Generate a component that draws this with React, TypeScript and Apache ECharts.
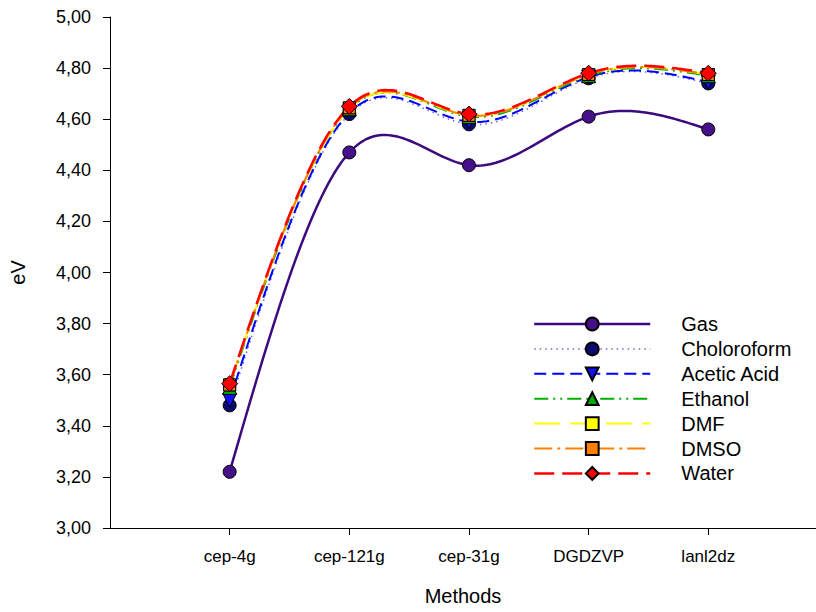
import React, { useEffect, useRef } from "react";
import * as echarts from "echarts";

const CATEGORIES = ["cep-4g", "cep-121g", "cep-31g", "DGDZVP", "lanl2dz"];
const Y_TICKS = [3.0, 3.2, 3.4, 3.6, 3.8, 4.0, 4.2, 4.4, 4.6, 4.8, 5.0];

const GAS = [3.22, 4.47, 4.42, 4.61, 4.56];
const CHLOROFORM = [3.48, 4.62, 4.58, 4.76, 4.74];
const ACETIC = [3.5, 4.625, 4.59, 4.765, 4.745];
const ETHANOL = [3.55, 4.64, 4.61, 4.77, 4.77];
const DMF = [3.56, 4.64, 4.615, 4.775, 4.775];
const DMSO = [3.56, 4.645, 4.615, 4.775, 4.775];
const WATER = [3.565, 4.65, 4.62, 4.78, 4.78];

const SERIES = [
  { name: "Gas", values: GAS, line: "#3c0a7e", fill: "#45108a", dash: "solid" as any, width: 2.5, symbol: "circle", size: 13, rotate: 0 },
  { name: "Choloroform", values: CHLOROFORM, line: "#6a6ad8", fill: "#0a0a70", dash: [1.5, 4], width: 1.5, symbol: "circle", size: 13, rotate: 0 },
  { name: "Acetic Acid", values: ACETIC, line: "#0000ff", fill: "#1010ff", dash: [12, 6], width: 2, symbol: "triangle", size: 14, rotate: 180 },
  { name: "Ethanol", values: ETHANOL, line: "#00b000", fill: "#00a800", dash: [14, 5, 2, 5, 2, 5], width: 2, symbol: "triangle", size: 14, rotate: 0 },
  { name: "DMF", values: DMF, line: "#ffff00", fill: "#ffff00", dash: [26, 10], width: 2, symbol: "rect", size: 12, rotate: 0 },
  { name: "DMSO", values: DMSO, line: "#ff8000", fill: "#ff8000", dash: [18, 5, 3, 5], width: 2, symbol: "rect", size: 12, rotate: 0 },
  { name: "Water", values: WATER, line: "#ff0000", fill: "#ff0000", dash: [20, 8], width: 2.5, symbol: "diamond", size: 16, rotate: 0 },
];

// natural cubic spline second derivatives (unit spacing)
function splineM(y: number[]): number[] {
  const n = y.length;
  const M = new Array(n).fill(0);
  const a: number[] = [], b: number[] = [], c: number[] = [], d: number[] = [];
  for (let i = 1; i < n - 1; i++) {
    a.push(1); b.push(4); c.push(1);
    d.push(6 * (y[i + 1] - 2 * y[i] + y[i - 1]));
  }
  const m = d.length;
  for (let i = 1; i < m; i++) {
    const w = a[i] / b[i - 1];
    b[i] -= w * c[i - 1];
    d[i] -= w * d[i - 1];
  }
  const x = new Array(m).fill(0);
  for (let i = m - 1; i >= 0; i--) {
    x[i] = (d[i] - (i < m - 1 ? c[i] * x[i + 1] : 0)) / b[i];
  }
  for (let i = 0; i < m; i++) M[i + 1] = x[i];
  return M;
}

export default function App() {
  const ref = useRef<HTMLDivElement>(null);
  useEffect(() => {
    if (!ref.current) return;
    const chart = echarts.init(ref.current, null, { renderer: "svg" });
    const font = "Liberation Sans, Arial, sans-serif";

    const markerSeries = SERIES.map((s) => ({
      name: s.name,
      type: "line",
      data: s.values.map((v, i) => [i + 1, v]),
      symbol: s.symbol,
      symbolSize: s.size,
      symbolRotate: s.rotate,
      showSymbol: true,
      lineStyle: { opacity: 0, color: s.line },
      itemStyle: { color: s.fill, borderColor: "#000", borderWidth: 1, opacity: 1 },
      z: 5,
      silent: true,
    }));

    const curveSeries = {
      type: "custom",
      name: "curves",
      silent: true,
      z: 2,
      data: SERIES.map((s) => [1, s.values[0]]),
      renderItem: (params: any, api: any) => {
        const s = SERIES[params.dataIndex];
        const y = s.values;
        const M = splineM(y);
        const pts: number[][] = [];
        const steps = 40;
        for (let k = 0; k < y.length - 1; k++) {
          for (let j = 0; j <= steps; j++) {
            if (k > 0 && j === 0) continue;
            const t = j / steps;
            const u = 1 - t;
            const val =
              u * y[k] + t * y[k + 1] +
              ((u * u * u - u) * M[k] + (t * t * t - t) * M[k + 1]) / 6;
            pts.push(api.coord([k + 1 + t, val]));
          }
        }
        return {
          type: "polyline",
          shape: { points: pts },
          style: {
            stroke: s.line,
            lineWidth: s.width,
            lineDash: s.dash === "solid" ? null : s.dash,
            fill: null,
          },
        };
      },
    };

    chart.setOption({
      animation: false,
      backgroundColor: "#ffffff",
      textStyle: { fontFamily: font },
      grid: { left: 108, top: 17, right: 0, height: 511 },
      legend: {
        orient: "vertical",
        left: 528,
        top: 309,
        itemWidth: 116,
        itemHeight: 16,
        itemGap: 4.9,
        selectedMode: false,
        textStyle: { fontSize: 20, lineHeight: 16, color: "#000", fontFamily: font, padding: [0, 0, 0, 26] },
        data: SERIES.map((s) => ({
          name: s.name,
          lineStyle: { color: s.line, width: s.width, type: s.dash, opacity: 1 },
        })),
      },
      xAxis: {
        type: "value",
        min: 0,
        max: 5.9,
        name: "Methods",
        nameLocation: "middle",
        nameGap: 58,
        nameTextStyle: { fontSize: 20, color: "#000", fontFamily: font },
        axisLine: { show: true, lineStyle: { color: "#000", width: 1 } },
        axisTick: { show: true, length: 7, customValues: [1, 2, 3, 4, 5], lineStyle: { color: "#000" } },
        axisLabel: {
          customValues: [1, 2, 3, 4, 5],
          formatter: (v: number) => CATEGORIES[Math.round(v) - 1] ?? "",
          fontSize: 17,
          color: "#000",
          margin: 20,
          fontFamily: font,
        },
        splitLine: { show: false },
      },
      yAxis: {
        type: "value",
        min: 3,
        max: 5,
        interval: 0.2,
        name: "eV",
        nameLocation: "middle",
        nameGap: 82,
        nameTextStyle: { fontSize: 20, color: "#000", fontFamily: font },
        axisLine: { show: true, lineStyle: { color: "#000", width: 1 } },
        axisTick: { show: true, length: 7, lineStyle: { color: "#000" } },
        axisLabel: {
          formatter: (v: number) => {
            const t = Y_TICKS.find((x) => Math.abs(x - v) < 1e-6);
            return (t ?? v).toFixed(2).replace(".", ",");
          },
          fontSize: 18,
          color: "#000",
          margin: 19,
          fontFamily: font,
        },
        splitLine: { show: false },
      },
      series: [curveSeries, ...markerSeries],
    } as any);
    return () => chart.dispose();
  }, []);
  return <div ref={ref} style={{ position: "fixed", left: 0, top: 0, width: 816, height: 612 }} />;
}
